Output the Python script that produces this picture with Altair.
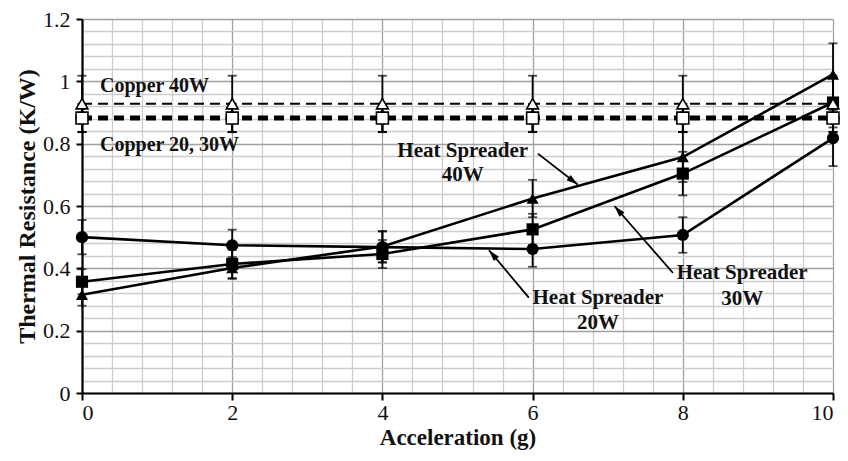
import math
import altair as alt
import pandas as pd

# ---------------- data ----------------
accel = [0, 2, 4, 6, 8, 10]

hs20 = [0.500, 0.474, 0.468, 0.462, 0.507, 0.818]
hs20_err = [0.055, 0.050, 0.050, 0.057, 0.057, 0.090]
hs30 = [0.357, 0.414, 0.446, 0.525, 0.704, 0.932]
hs30_err = [0.040, 0.045, 0.045, 0.050, 0.070, 0.080]
hs40 = [0.315, 0.401, 0.470, 0.624, 0.757, 1.022]
hs40_err = [0.035, 0.035, 0.050, 0.060, 0.080, 0.100]

copper40 = [0.928, 0.928, 0.928, 0.928, 0.928, 0.928]
copper40_err = [0.090, 0.090, 0.090, 0.090, 0.090, 0.090]
copper20 = [0.882, 0.882, 0.882, 0.882, 0.882, 0.882]
copper20_err = [0.045, 0.045, 0.045, 0.045, 0.045, 0.045]
copper30 = [0.882, 0.882, 0.882, 0.882, 0.882, 0.882]
copper30_err = [0.045, 0.045, 0.045, 0.045, 0.045, 0.045]

x_ticks = [0, 2, 4, 6, 8, 10]
y_ticks = [0, 0.2, 0.4, 0.6, 0.8, 1.0, 1.2]
x_minor = [0.4, 0.8, 1.2, 1.6, 2.4, 2.8, 3.2, 3.6, 4.4, 4.8, 5.2, 5.6,
           6.4, 6.8, 7.2, 7.6, 8.4, 8.8, 9.2, 9.6]
y_minor = [0.04, 0.08, 0.12, 0.16, 0.24, 0.28, 0.32, 0.36, 0.44, 0.48, 0.52, 0.56,
           0.64, 0.68, 0.72, 0.76, 0.84, 0.88, 0.92, 0.96, 1.04, 1.08, 1.12, 1.16]

copper_text = ["Copper 40W", "Copper 20, 30W"]
copper_text_x = [0.24, 0.24]
copper_text_y = [0.985, 0.796]

hs_text = ["Heat Spreader", "40W", "Heat Spreader", "30W", "Heat Spreader", "20W"]
hs_text_x = [5.07, 5.07, 8.79, 8.79, 6.87, 6.87]
hs_text_y = [0.775, 0.698, 0.384, 0.302, 0.305, 0.223]

arrow_x0 = [6.07, 7.87, 5.95]
arrow_y0 = [0.768, 0.385, 0.306]
arrow_x1 = [6.60, 7.09, 5.42]
arrow_y1 = [0.669, 0.600, 0.458]

# ---------------- layout ----------------
W, H = 751, 374
X_DOM, Y_DOM = [0, 10], [0, 1.2]
FONT = "Liberation Serif"

xs = alt.Scale(domain=X_DOM, nice=False, zero=False)
ys = alt.Scale(domain=Y_DOM, nice=False, zero=False)


def series_df(name, vals, errs):
    return pd.DataFrame({
        "series": name, "x": accel, "y": vals,
        "lo": [v - e for v, e in zip(vals, errs)],
        "hi": [v + e for v, e in zip(vals, errs)],
    })


hs_df = pd.concat([series_df("HS 20W", hs20, hs20_err),
                   series_df("HS 30W", hs30, hs30_err),
                   series_df("HS 40W", hs40, hs40_err)])
cu_df = pd.concat([series_df("Cu 20W", copper20, copper20_err),
                   series_df("Cu 30W", copper30, copper30_err),
                   series_df("Cu 40W", copper40, copper40_err)])

X = alt.X("x:Q", scale=xs, axis=None)
Y = alt.Y("y:Q", scale=ys, axis=None)

# minor grid (drawn first)
grid_minor = alt.Chart(pd.DataFrame({"x": [0], "y": [0]})).mark_point(opacity=0).encode(
    x=alt.X("x:Q", scale=xs, axis=alt.Axis(values=x_minor, grid=True, gridColor="#cccccc",
                                           gridWidth=1.3, labels=False, ticks=False,
                                           domain=False, title=None, orient="top")),
    y=alt.Y("y:Q", scale=ys, axis=alt.Axis(values=y_minor, grid=True, gridColor="#cccccc",
                                           gridWidth=1.3, labels=False, ticks=False,
                                           domain=False, title=None, orient="right")),
)

# major grid + real axes
grid_major = alt.Chart(pd.DataFrame({"x": [0], "y": [0]})).mark_point(opacity=0).encode(
    x=alt.X("x:Q", scale=xs, axis=alt.Axis(
        values=x_ticks, grid=True, gridColor="#a0a0a0", gridWidth=1.3,
        domainColor="#000", domainWidth=2.2, tickColor="#000", tickWidth=2, tickSize=7,
        labelFont=FONT, labelFontSize=22, labelColor="#111", labelPadding=2,
        title="Acceleration (g)", titleFont=FONT, titleFontSize=23, titleFontWeight="bold",
        titleColor="#111", titlePadding=3, orient="bottom")),
    y=alt.Y("y:Q", scale=ys, axis=alt.Axis(
        values=y_ticks, grid=True, gridColor="#a0a0a0", gridWidth=1.3, format="~g",
        domainColor="#000", domainWidth=2.2, tickColor="#000", tickWidth=2, tickSize=6,
        labelFont=FONT, labelFontSize=22, labelColor="#111", labelPadding=6,
        title="Thermal Resistance (K/W)", titleFont=FONT, titleFontSize=24,
        titleFontWeight="bold", titleColor="#111", titlePadding=3, orient="left")),
)

# heat spreader: error bars, lines, filled markers
hs_base = alt.Chart(hs_df)
hs_err = hs_base.mark_rule(color="#000", strokeWidth=1.8).encode(
    x=X, y=alt.Y("lo:Q", scale=ys, axis=None), y2="hi:Q")
hs_cap_lo = hs_base.mark_tick(color="#000", thickness=1.8, size=9, orient="horizontal").encode(
    x=X, y=alt.Y("lo:Q", scale=ys, axis=None))
hs_cap_hi = hs_base.mark_tick(color="#000", thickness=1.8, size=9, orient="horizontal").encode(
    x=X, y=alt.Y("hi:Q", scale=ys, axis=None))
hs_line = hs_base.mark_line(color="#000", strokeWidth=2.6).encode(x=X, y=Y, detail="series:N")
shape_scale = alt.Scale(domain=["HS 20W", "HS 30W", "HS 40W", "Cu 20W", "Cu 30W", "Cu 40W"],
                        range=["circle", "square", "triangle-up", "circle", "square", "triangle-up"])
size_scale = alt.Scale(domain=["HS 20W", "HS 30W", "HS 40W", "Cu 20W", "Cu 30W", "Cu 40W"],
                       range=[150, 140, 150, 70, 110, 130])
hs_pts = hs_base.mark_point(filled=True, color="#000", opacity=1).encode(
    x=X, y=Y,
    shape=alt.Shape("series:N", scale=shape_scale, legend=None),
    size=alt.Size("series:N", scale=size_scale, legend=None))

# copper: error bars, open markers, dashed lines
cu_base = alt.Chart(cu_df)
cu_err = cu_base.mark_rule(color="#000", strokeWidth=1.8).encode(
    x=X, y=alt.Y("lo:Q", scale=ys, axis=None), y2="hi:Q")
cu_cap_lo = cu_base.mark_tick(color="#000", thickness=1.8, size=9, orient="horizontal").encode(
    x=X, y=alt.Y("lo:Q", scale=ys, axis=None))
cu_cap_hi = cu_base.mark_tick(color="#000", thickness=1.8, size=9, orient="horizontal").encode(
    x=X, y=alt.Y("hi:Q", scale=ys, axis=None))
cu_pts = cu_base.mark_point(filled=True, fill="#fff", stroke="#000", strokeWidth=1.6,
                            opacity=1).encode(
    x=X, y=Y,
    shape=alt.Shape("series:N", scale=shape_scale, legend=None),
    size=alt.Size("series:N", scale=size_scale, legend=None))
cu40_line = alt.Chart(cu_df[cu_df.series == "Cu 40W"]).mark_line(
    color="#000", strokeWidth=2.2, strokeDash=[10, 6]).encode(x=X, y=Y)
cu2030_line = alt.Chart(cu_df[cu_df.series == "Cu 20W"]).mark_line(
    color="#000", strokeWidth=5, strokeDash=[10, 6]).encode(x=X, y=Y)

# annotations
ct_df = pd.DataFrame({"t": copper_text, "x": copper_text_x, "y": copper_text_y})
ct = alt.Chart(ct_df).mark_text(font=FONT, fontSize=20, fontWeight="bold", align="left",
                                baseline="middle", color="#111").encode(x=X, y=Y, text="t:N")
ht_df = pd.DataFrame({"t": hs_text, "x": hs_text_x, "y": hs_text_y})
ht = alt.Chart(ht_df).mark_text(font=FONT, fontSize=21, fontWeight="bold", align="center",
                                baseline="middle", color="#111").encode(x=X, y=Y, text="t:N")

px_x = W / (X_DOM[1] - X_DOM[0])
px_y = H / (Y_DOM[1] - Y_DOM[0])
angles = []
for x0, y0, x1, y1 in zip(arrow_x0, arrow_y0, arrow_x1, arrow_y1):
    dx = (x1 - x0) * px_x
    dy = -(y1 - y0) * px_y
    angles.append(math.degrees(math.atan2(dx, -dy)) % 360)
ar_df = pd.DataFrame({"x": arrow_x0, "y": arrow_y0, "x2": arrow_x1, "y2": arrow_y1,
                      "ang": angles})
ar_line = alt.Chart(ar_df).mark_rule(color="#000", strokeWidth=1.8).encode(
    x=X, y=Y, x2="x2:Q", y2="y2:Q")
ar_head = alt.Chart(ar_df).mark_point(
    shape="M0,0L-0.7,2.4L0.7,2.4Z", filled=True, color="#000", opacity=1, size=90).encode(
    x=alt.X("x2:Q", scale=xs, axis=None), y=alt.Y("y2:Q", scale=ys, axis=None),
    angle=alt.Angle("ang:Q", scale=None))

chart = alt.layer(
    grid_minor, grid_major,
    hs_err, hs_cap_lo, hs_cap_hi, cu_err, cu_cap_lo, cu_cap_hi,
    hs_line, cu40_line, cu2030_line, hs_pts, cu_pts,
    ar_line, ar_head, ct, ht,
).resolve_axis(x="independent", y="independent").properties(
    width=W, height=H,
    autosize=alt.AutoSizeParams(type="none"),
    padding={"left": 74, "top": 11, "right": 7, "bottom": 66},
    background="#ffffff",
).configure_view(stroke=None)

chart.save("out.html", embed_options={"renderer": "svg", "actions": False})
